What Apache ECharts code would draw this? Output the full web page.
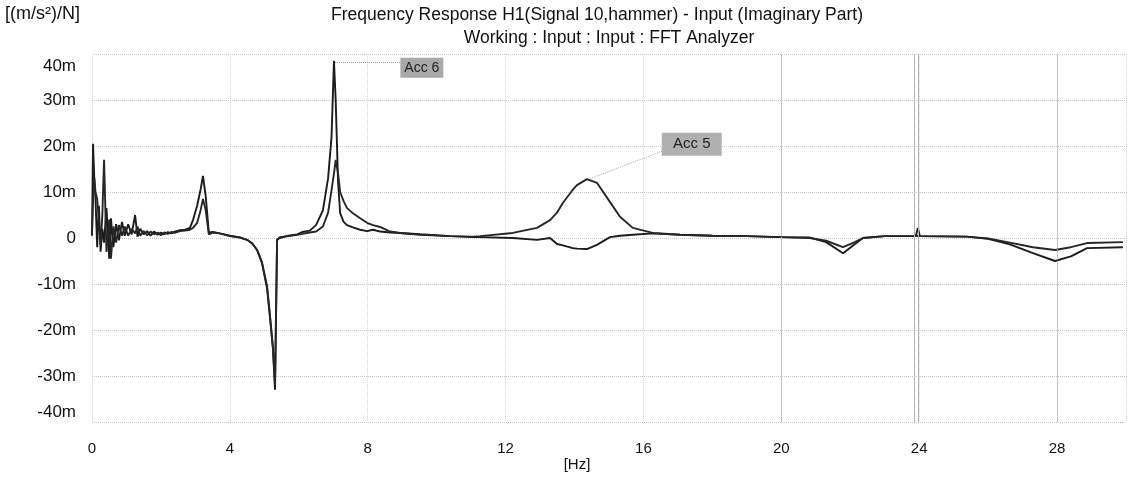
<!DOCTYPE html>
<html>
<head>
<meta charset="utf-8">
<script src="https://cdn.jsdelivr.net/npm/echarts@6/dist/echarts.min.js"></script>
<style>
html,body{margin:0;padding:0;background:#fff;}
#chart{width:1131px;height:479px;}
</style>
</head>
<body>
<div id="chart"></div>
<script>
// ---- data ----
const freq = [0.00,0.03,0.07,0.10,0.15,0.20,0.25,0.30,0.35,0.42,0.50,0.55,0.62,0.70,0.78,0.87,0.95,1.05,1.15,1.25,1.32,1.40,1.50,1.60,1.70,1.80,1.90,2.00,2.10,2.20,2.30,2.40,2.55,2.70,2.84,2.93,3.05,3.15,3.22,3.30,3.39,3.51,3.70,4.00,4.30,4.50,4.65,4.79,4.93,5.08,5.16,5.25,5.31,5.37,5.45,5.70,5.95,6.10,6.32,6.50,6.70,6.85,6.95,7.02,7.07,7.14,7.20,7.30,7.40,7.57,7.78,7.98,8.15,8.36,8.65,8.94,9.52,10.39,11.05,11.26,12.21,12.91,13.29,13.49,13.66,13.95,14.07,14.36,14.65,15.03,15.32,15.69,16.27,17.06,18.0,19.0,19.96,20.83,21.3,21.79,22.10,22.37,23.0,23.9,23.96,24.02,25.38,26.0,26.63,27.3,27.94,28.4,28.87,29.91];
const acc6 = [0.5,20.5,12,9,-2,7,-3,2,-1,6.5,-4.5,4.3,-2,3,-0.5,3.5,0.5,3,0.8,5,0.3,2,0.8,1.5,0.5,1.4,0.7,1.2,0.8,1.3,1.0,1.4,1.7,1.8,2.2,3.9,7,10.5,13.5,9,1.2,1.3,1.0,0.5,0.1,-0.4,-1.2,-2.6,-5.4,-11,-17,-24,-33,-0.3,0,0.5,0.8,1.3,1.6,2.8,6,13,22,38.5,30,12,5.4,3.5,2.8,2.3,1.8,1.5,1.8,1.4,1.2,1.1,0.8,0.4,0.2,0.2,0.0,-0.4,0,-1.3,-1.6,-2.2,-2.3,-2.4,-1.5,0.2,0.5,0.7,1.0,0.7,0.5,0.4,0.2,0.1,-0.9,-3.3,-1.5,0.0,0.4,0.4,2.2,0.4,0.3,-0.2,-1.4,-3.3,-5.0,-4.0,-2.2,-2.0];
const acc5 = [1,8,13,10,8.5,4,-1.5,5,17,-3,4,-4.5,2.5,-1,2.8,0.5,2.5,0.5,2,1,2.5,0.5,1.5,0.6,1.4,0.8,1.2,0.6,1.2,0.9,1.3,1.1,1.5,1.6,1.8,2.2,3.3,6,8.5,6,0.8,1.2,1.0,0.4,0.1,-0.4,-1.2,-2.6,-5.2,-10.5,-16.5,-24,-32,-0.5,0.2,0.4,0.7,0.9,1.2,1.4,2.5,5.5,10.4,14,17,14,10,8,6.5,5.4,4.3,3.3,2.8,2.4,1.4,1.1,0.7,0.4,0.3,0.4,1.1,2.2,3.9,5.5,7.6,10.5,11.5,12.8,12,7.8,4.6,2.2,1.1,0.7,0.5,0.4,0.2,0.0,-0.6,-2.0,-1.0,0.0,0.4,0.4,0.5,0.4,0.3,-0.1,-1.0,-2.0,-2.6,-2.0,-1.1,-0.9];
const yTicks = [-40,-30,-20,-10,0,10,20,30,40];
const xTicks = [0,4,8,12,16,20,24,28];
const cursorHz = [20, 23.85, 23.97, 28];
const labelAnchors = { acc6: [9.57, 37], acc5: [17.4, 20.4] };
const leader6 = [[7.05, 38.2], [9.0, 38.2]];
const leader5 = [[14.45, 12.9], [16.62, 19.1]];

const FONT = "'Liberation Sans', Arial, sans-serif";
const chart = echarts.init(document.getElementById('chart'), null, {renderer:'canvas'});

function pairs(vals){ return freq.map((f,i)=>[f, vals[i]]); }

const option = {
  backgroundColor: '#ffffff',
  animation: false,
  textStyle: {fontFamily: FONT},
  grid: {left: 92, right: 5, top: 54, bottom: 57},
  graphic: [
    {type:'text', left: 5, top: 5, style:{text:'[(m/s²)/N]', font:"18px " + FONT, fill:'#111'}},
    {type:'text', style:{x:597, y:15, text:'Frequency Response H1(Signal 10,hammer) - Input (Imaginary Part)', textAlign:'center', textVerticalAlign:'middle', font:"17.5px " + FONT, fill:'#111'}},
    {type:'text', style:{x:609, y:38, text:'Working : Input : Input : FFT Analyzer', textAlign:'center', textVerticalAlign:'middle', font:"17.5px " + FONT, fill:'#111'}},
    {type:'text', style:{x:577, y:465, text:'[Hz]', textAlign:'center', textVerticalAlign:'middle', font:"15px " + FONT, fill:'#111'}}
  ],
  xAxis: {
    type: 'value', min: 0, max: 30, interval: 4,
    axisLine: {show:false}, axisTick: {show:false},
    axisLabel: {showMaxLabel:false, margin: 19, fontSize: 15, color:'#111', fontFamily: FONT,
      formatter: v => xTicks.includes(v) ? String(v) : ''},
    splitLine: {show:true, lineStyle:{type:'dotted', color:'#d4d4d4', width:1}}
  },
  yAxis: {
    type: 'value', min: -40, max: 40, interval: 10,
    axisLine: {show:false}, axisTick: {show:false},
    axisLabel: {margin: 16, fontSize: 17, color:'#111', fontFamily: FONT,
      formatter: v => {
        if (!yTicks.includes(v)) return '';
        const t = v === 0 ? '0' : v + 'm';
        if (v === 40) return '{t|' + t + '}';
        if (v === -40) return '{b|' + t + '}';
        return t;
      },
      rich: {
        t: {padding:[24,0,0,0], fontSize:17, color:'#111', fontFamily: FONT},
        b: {padding:[0,0,20,0], fontSize:17, color:'#111', fontFamily: FONT}
      }
    },
    splitLine: {show:true, lineStyle:{type:'dotted', color:'#c8c8c8', width:1}}
  },
  series: [
    {
      name: 'Acc 6', type: 'line', data: pairs(acc6), showSymbol: false, symbol:'none',
      lineStyle: {color:'#1c1c1c', width: 1.9}, z: 3,
      markPoint: {
        silent: true, symbol: 'rect', symbolSize: [43, 20],
        itemStyle: {color:'#a9a9a9'},
        label: {show:true, formatter:'{b}', color:'#222', fontSize:14, fontFamily: FONT},
        data: [{name:'Acc 6', coord: labelAnchors.acc6}]
      },
      markLine: {
        silent: true, symbol: ['none','none'], label:{show:false},
        lineStyle: {type:'dotted', color:'#999', width:1},
        data: [
          [{coord: leader6[0]}, {coord: leader6[1]}],
          ...cursorHz.map(h => ({xAxis: h, lineStyle:{type: (h === 20 || h === 28) ? 'dotted' : 'solid', color:'#b5b5b5', width:1}}))
        ]
      }
    },
    {
      name: 'Acc 5', type: 'line', data: pairs(acc5), showSymbol: false, symbol:'none',
      lineStyle: {color:'#262626', width: 1.9}, z: 3,
      markPoint: {
        silent: true, symbol: 'rect', symbolSize: [60, 23],
        itemStyle: {color:'#b0b0b0'},
        label: {show:true, formatter:'{b}', color:'#222', fontSize:15, fontFamily: FONT},
        data: [{name:'Acc 5', coord: labelAnchors.acc5}]
      },
      markLine: {
        silent: true, symbol: ['none','none'], label:{show:false},
        lineStyle: {type:'dotted', color:'#aaa', width:1},
        data: [[{coord: leader5[0]}, {coord: leader5[1]}]]
      }
    }
  ]
};
chart.setOption(option);
</script>
</body>
</html>
